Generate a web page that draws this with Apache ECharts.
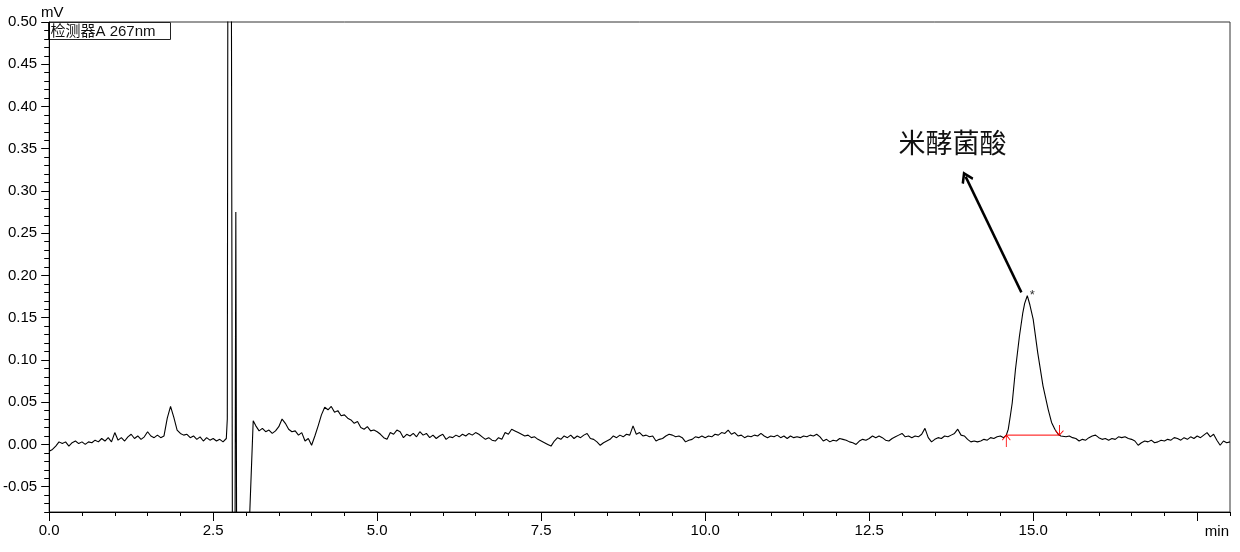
<!DOCTYPE html>
<html><head><meta charset="utf-8">
<script src="https://cdn.jsdelivr.net/npm/echarts@6/dist/echarts.min.js"></script>
<style>html,body{margin:0;padding:0;background:#fff}#c{width:1240px;height:552px}</style>
</head><body><div id="c"></div>
<script>
const FONT = "'Liberation Sans', Arial, 'Noto Sans CJK SC', sans-serif";
const CJK = "'Noto Sans CJK SC', 'Noto Sans CJK JP', sans-serif";

// ---- texts ----
const detectorLabel = '检测器A 267nm';
const yUnit = 'mV';
const xUnit = 'min';
const peakName = '米酵菌酸';

// ---- axes ----
const xRange = [0, 18];
const yRange = [-0.08, 0.5];
const xMajorTicks = [0, 2.5, 5, 7.5, 10, 12.5, 15, 17.5];
const yMajorTicks = [-0.05, 0, 0.05, 0.1, 0.15, 0.2, 0.25, 0.3, 0.35, 0.4, 0.45, 0.5];

// ---- chromatogram (mV), sampled every 0.05 min except features ----
const sampleStep = 0.05;
const segAStart = 0.0;
const segA = [
 -0.008,-0.006,-0.002,0.003,0.001,0.003,-0.002,0.002,0.004,0.001,
 0.003,0.000,0.003,0.002,0.005,0.003,0.007,0.004,0.008,0.003,
 0.014,0.005,0.008,0.004,0.009,0.012,0.007,0.010,0.006,0.009,
 0.015,0.010,0.008,0.011,0.008,0.010,0.031,0.045,0.032,0.017,
 0.013,0.011,0.012,0.008,0.010,0.006,0.009,0.004,0.008,0.005,
 0.007,0.004,0.006,0.003
];
const solventFront = [
 [2.68,0.005],[2.70,0.007],[2.715,0.03],[2.725,0.65],[2.775,0.65],[2.795,-0.2],
 [2.83,-0.2],[2.845,0.275],[2.86,-0.2],[3.0,-0.2],[3.11,0.028]
];
const segBStart = 3.15;
const segB = [
 0.022,0.016,0.019,0.015,0.017,0.013,0.016,0.021,0.030,0.025,
 0.018,0.015,0.016,0.011,0.014,0.004,0.007,-0.001,0.010,0.022,
 0.035,0.044,0.041,0.045,0.038,0.040,0.034,0.035,0.031,0.029,
 0.025,0.027,0.020,0.018,0.021,0.016,0.017,0.015,0.012,0.008,
 0.006,0.014,0.012,0.017,0.015,0.008,0.012,0.010,0.013,0.009,
 0.015,0.011,0.013,0.008,0.011,0.007,0.010,0.012,0.006,0.009,
 0.008,0.011,0.009,0.012,0.010,0.013,0.011,0.014,0.012,0.009,
 0.006,0.008,0.005,0.004,0.008,0.006,0.014,0.012,0.018,0.016,
 0.014,0.012,0.010,0.011,0.008,0.009,0.006,0.004,0.002,0.000,
 -0.002,0.004,0.008,0.006,0.010,0.008,0.011,0.007,0.010,0.008,
 0.011,0.013,0.007,0.006,0.003,-0.001,0.002,0.004,0.006,0.010,
 0.008,0.011,0.009,0.012,0.011,0.022,0.012,0.014,0.010,0.011,
 0.009,0.010,0.004,0.006,0.007,0.010,0.012,0.011,0.009,0.010,
 0.008,0.003,0.005,0.006,0.009,0.008,0.010,0.008,0.010,0.009,
 0.012,0.011,0.014,0.013,0.017,0.012,0.014,0.010,0.011,0.008,
 0.010,0.009,0.011,0.010,0.013,0.010,0.008,0.010,0.009,0.011,
 0.008,0.010,0.007,0.010,0.008,0.009,0.008,0.010,0.009,0.011,
 0.010,0.012,0.009,0.004,0.006,0.003,0.005,0.004,0.007,0.006,
 0.005,0.003,0.002,0.000,0.004,0.006,0.005,0.007,0.010,0.008,
 0.010,0.008,0.005,0.004,0.007,0.009,0.011,0.013,0.009,0.010,
 0.008,0.010,0.009,0.012,0.019,0.008,0.003,0.006,0.008,0.007,
 0.010,0.009,0.011,0.013,0.018,0.011,0.010,0.006,0.003,0.004,
 0.003,0.004,0.006,0.005,0.008,0.007,0.009,0.010,0.008
];
const peakPoints = [
 [14.59,0.011],[14.62,0.018],[14.65,0.033],[14.68,0.049],[14.73,0.089],[14.79,0.128],
 [14.84,0.155],[14.87,0.167],[14.91,0.176],[14.95,0.165],[15.00,0.148],[15.07,0.108],
 [15.15,0.069],[15.23,0.041],[15.28,0.026],[15.33,0.018],[15.38,0.012],[15.42,0.010]
];
const segCStart = 15.45;
const segC = [
 0.011,0.009,0.010,0.008,0.007,0.004,0.006,0.005,0.008,0.010,
 0.011,0.008,0.006,0.007,0.005,0.007,0.006,0.009,0.008,0.009,
 0.007,0.006,0.004,-0.001,0.002,0.004,0.003,0.005,0.002,0.003,
 0.005,0.004,0.006,0.005,0.008,0.007,0.005,0.008,0.006,0.009,
 0.007,0.010,0.008,0.011,0.014,0.009,0.012,0.005,-0.001,0.004,
 0.002,0.003
];

// ---- peak annotation ----
const integrationBaseline = [[14.59, 0.011], [15.40, 0.011]];
const peakApex = [14.91, 0.176];
const arrowFrom = [14.82, 0.180];
const arrowTo = [13.97, 0.317];
const labelAt = [13.77, 0.3575];

// ---- build ----
function seg(t0, vals) { return vals.map((v, i) => [Math.round((t0 + sampleStep * i) * 1000) / 1000, v]); }
const trace = [].concat(seg(segAStart, segA), solventFront, seg(segBStart, segB), peakPoints, seg(segCStart, segC));
const xMinorTicks = []; for (let k = 0; k <= 36; k++) xMinorTicks.push(k * 0.5);
const yMinorTicks = []; for (let k = -8; k <= 50; k++) yMinorTicks.push(k / 100);

const chevron = 'path://M50,0 L100,78 L86,92 L50,36 L14,92 L0,78 Z';

const chart = echarts.init(document.getElementById('c'), null, {renderer: 'canvas'});
chart.setOption({
  animation: false,
  backgroundColor: '#fff',
  textStyle: {fontFamily: FONT},
  grid: {left: 48, right: 10, top: 22, bottom: 40, show: true, borderColor: '#333', borderWidth: 1, backgroundColor: 'transparent'},
  graphic: [{
    type: 'group', left: 48, top: 22, z: 100,
    children: [
      {type: 'rect', shape: {x: 0, y: 0, width: 122, height: 17}, style: {fill: '#fff', stroke: '#222', lineWidth: 1}},
      {type: 'text', x: 2, y: 9, style: {text: detectorLabel, fill: '#111', font: "15px 'Liberation Sans', 'Noto Sans CJK SC', sans-serif", verticalAlign: 'middle'}}
    ]
  }, {
    type: 'text', right: 11, top: 524, z: 100,
    style: {text: xUnit, fill: '#000', font: "15px 'Liberation Sans', Arial, sans-serif"}
  }],
  xAxis: [{
    type: 'value', min: xRange[0], max: xRange[1],
    axisLine: {onZero: false, lineStyle: {color: '#000', width: 1}},
    axisTick: {show: true, customValues: xMajorTicks, length: 9, lineStyle: {color: '#000'}},
    axisLabel: {customValues: xMajorTicks.slice(0, 7), formatter: v => v.toFixed(1), fontSize: 15, color: '#000', margin: 11},
    splitLine: {show: false}
  }, {
    type: 'value', min: xRange[0], max: xRange[1], position: 'bottom',
    axisLine: {show: false, onZero: false},
    axisTick: {show: true, customValues: xMinorTicks, length: 4, lineStyle: {color: '#000'}},
    axisLabel: {show: false}, splitLine: {show: false}
  }],
  yAxis: [{
    type: 'value', min: yRange[0], max: yRange[1], position: 'left',
    name: yUnit, nameLocation: 'end', nameGap: 2, nameMoveOverlap: false,
    nameTextStyle: {fontSize: 15, color: '#000', align: 'center', padding: [0, 0, 0, 6]},
    axisLine: {show: true, onZero: false, lineStyle: {color: '#000', width: 1}},
    axisTick: {show: true, customValues: yMajorTicks, length: 8, lineStyle: {color: '#000'}},
    axisLabel: {customValues: yMajorTicks, formatter: v => v.toFixed(2), fontSize: 15, color: '#000', margin: 12},
    splitLine: {show: false}
  }, {
    type: 'value', min: yRange[0], max: yRange[1], position: 'left', offset: 0,
    axisLine: {show: false, onZero: false},
    axisTick: {show: true, customValues: yMinorTicks, length: 5, lineStyle: {color: '#000'}},
    axisLabel: {show: false}, splitLine: {show: false}
  }],
  series: [{
    name: detectorLabel, type: 'line', data: trace, showSymbol: false, symbol: 'none',
    xAxisIndex: 0, yAxisIndex: 0, clip: true, sampling: null,
    lineStyle: {color: '#000', width: 1.1}, z: 3
  }, {
    name: 'integration', type: 'line', data: integrationBaseline, showSymbol: false, symbol: 'none',
    xAxisIndex: 0, yAxisIndex: 0, lineStyle: {color: '#ff0000', width: 1}, z: 2,
    markPoint: {
      silent: true, animation: false,
      data: [
        {coord: integrationBaseline[0], symbol: 'path://M0,5 L3.5,0 L7,5 M3.5,0 L3.5,12', symbolSize: [8, 12], symbolOffset: [0, 6],
         itemStyle: {color: 'none', borderColor: '#ff0000', borderWidth: 1}, label: {show: false}},
        {coord: integrationBaseline[1], symbol: 'path://M0,5.5 L3.5,10 L7,5.5 M3.5,0 L3.5,10', symbolSize: [8, 10], symbolOffset: [0, -5],
         itemStyle: {color: 'none', borderColor: '#ff0000', borderWidth: 1}, label: {show: false}},
        {coord: peakApex, symbol: 'circle', symbolSize: 0, itemStyle: {color: 'transparent'},
         label: {show: true, position: 'inside', formatter: '*', offset: [5, 0], color: '#333', fontSize: 13, fontFamily: FONT}},
        {coord: labelAt, symbol: 'circle', symbolSize: 0, itemStyle: {color: 'transparent'},
         label: {show: true, position: 'inside', formatter: peakName, color: '#111', fontSize: 27, fontFamily: CJK}}
      ]
    },
    markLine: {
      silent: true, animation: false,
      symbol: ['none', chevron], symbolSize: [13, 12],
      lineStyle: {color: '#000', width: 2.5, type: 'solid'},
      label: {show: false},
      data: [[{coord: arrowFrom}, {coord: arrowTo}]]
    }
  }]
});
</script></body></html>
